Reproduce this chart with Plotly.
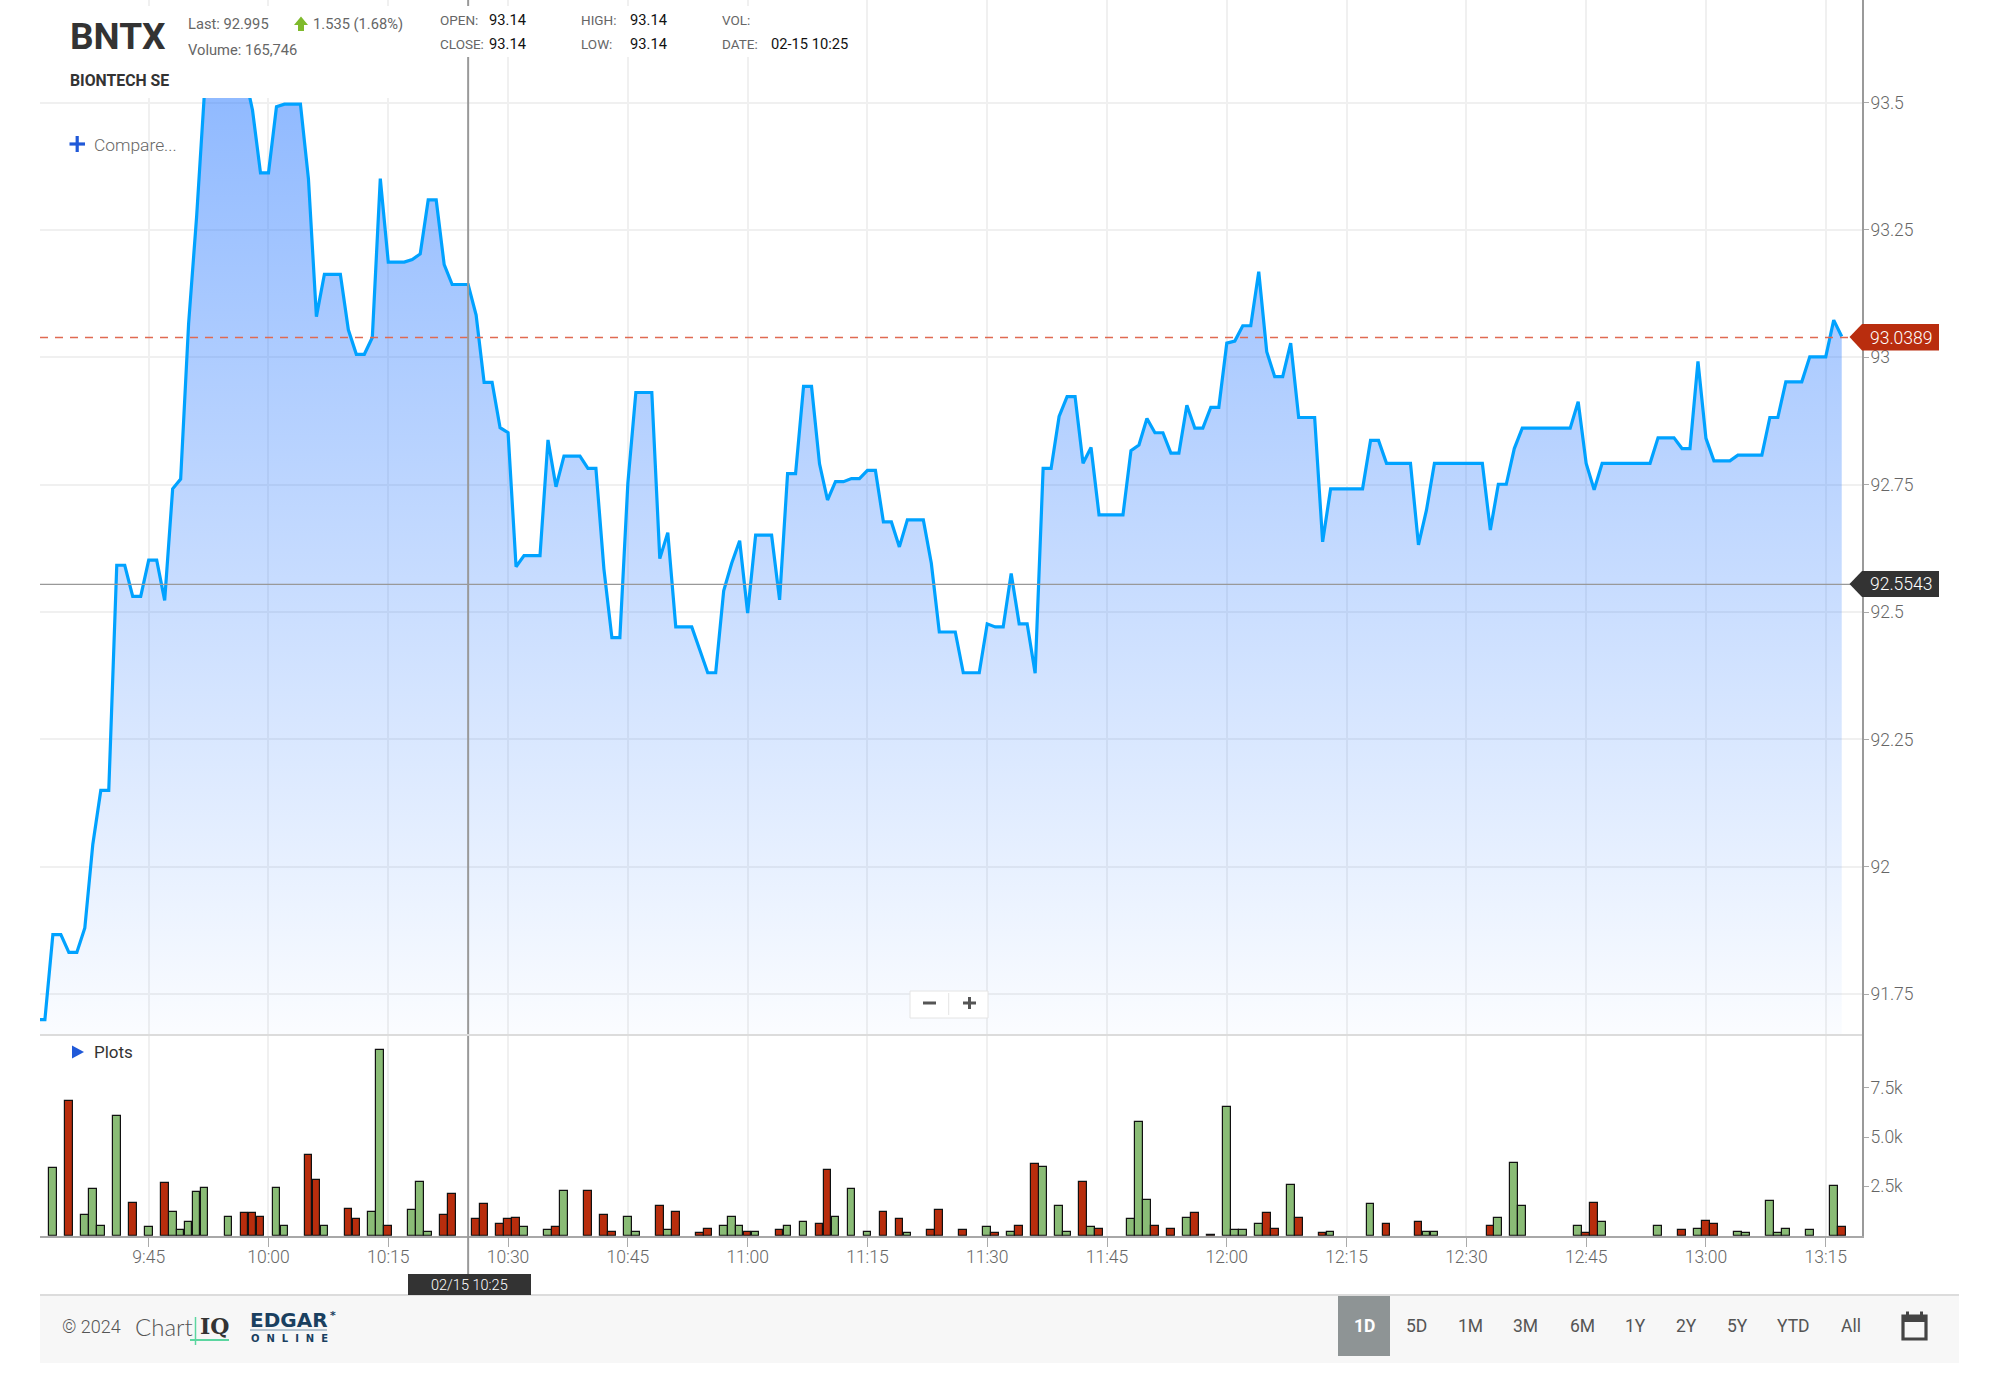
import plotly.graph_objects as go

W, H = 1999, 1384

# minutes after 9:30, one price per minute starting at minute 1
price_start_minute = 1
prices = [
    91.70, 91.70, 91.867, 91.867, 91.832, 91.832, 91.88, 92.044, 92.15, 92.15,
    92.592, 92.592, 92.531, 92.531, 92.602, 92.602, 92.523, 92.742, 92.761, 93.067,
    93.276, 93.525, 93.6, 93.62, 93.62, 93.6, 93.558, 93.485, 93.362, 93.362,
    93.492, 93.497, 93.497, 93.497, 93.351, 93.08, 93.163, 93.163, 93.163, 93.054,
    93.006, 93.006, 93.039, 93.351, 93.187, 93.187, 93.187, 93.192, 93.203, 93.309,
    93.309, 93.182, 93.143, 93.143, 93.143, 93.083, 92.951, 92.951, 92.862, 92.852,
    92.589, 92.611, 92.611, 92.611, 92.838, 92.746, 92.806, 92.806, 92.806, 92.782,
    92.782, 92.585, 92.45, 92.45, 92.753, 92.931, 92.931, 92.931, 92.605, 92.656,
    92.471, 92.471, 92.471, 92.426, 92.381, 92.381, 92.542, 92.596, 92.64, 92.498,
    92.651, 92.651, 92.651, 92.524, 92.772, 92.772, 92.943, 92.943, 92.791, 92.72,
    92.756, 92.756, 92.762, 92.762, 92.778, 92.778, 92.677, 92.677, 92.628, 92.681,
    92.681, 92.681, 92.596, 92.461, 92.461, 92.461, 92.381, 92.381, 92.381, 92.477,
    92.471, 92.471, 92.576, 92.477, 92.477, 92.38, 92.782, 92.782, 92.884, 92.923,
    92.923, 92.792, 92.823, 92.691, 92.691, 92.691, 92.691, 92.817, 92.828, 92.88,
    92.852, 92.852, 92.812, 92.812, 92.906, 92.861, 92.861, 92.902, 92.902, 93.028,
    93.032, 93.062, 93.062, 93.168, 93.011, 92.962, 92.962, 93.028, 92.882, 92.882,
    92.882, 92.638, 92.742, 92.742, 92.742, 92.742, 92.742, 92.837, 92.837, 92.792,
    92.792, 92.792, 92.792, 92.632, 92.7, 92.792, 92.792, 92.792, 92.792, 92.792,
    92.792, 92.792, 92.661, 92.751, 92.751, 92.821, 92.861, 92.861, 92.861, 92.861,
    92.861, 92.861, 92.861, 92.913, 92.792, 92.74, 92.792, 92.792, 92.792, 92.792,
    92.792, 92.792, 92.792, 92.842, 92.842, 92.842, 92.821, 92.821, 92.992, 92.841,
    92.797, 92.797, 92.797, 92.808, 92.808, 92.808, 92.808, 92.882, 92.882, 92.952,
    92.952, 92.952, 93.001, 93.001, 93.001, 93.073, 93.041,
]

up_minutes = [3, 7, 8, 9, 11, 15, 18, 19, 20, 21, 22, 25, 31, 32, 37, 43, 44, 48, 49, 50, 62, 65, 67, 75, 76, 80,
              87, 88, 89, 91, 95, 97, 101, 103, 105, 110, 120, 123, 127, 129, 130, 133, 138, 139, 140, 145,
              150, 151, 152, 154, 158, 163, 168, 175, 176, 184, 186, 187, 194, 197, 204, 209, 214, 215, 218,
              219, 220, 223, 226]
up_volumes = [3412, 1047, 2348, 507, 6081, 439, 1199, 287, 676, 2196, 2416, 963, 2416, 507, 507, 1199, 9426, 1284,
              2736, 203, 439, 287, 2263, 963, 203, 287,
              507, 963, 507, 203, 507, 676, 963, 2348, 203, 135, 439, 203, 3496, 1503, 203, 439, 828, 5776, 1807,
              895, 6536, 287, 287, 591, 2584, 203, 1588, 203, 203, 895, 3699, 1503, 507, 676, 507, 355, 203, 135,
              1740, 135, 355, 287, 2500]
down_minutes = [5, 13, 17, 27, 28, 29, 35, 36, 40, 41, 45, 52, 53, 56, 57, 59, 60, 61, 66, 70, 72, 73, 79, 81, 84,
                85, 90, 94, 99, 100, 107, 109, 113, 114, 117, 121, 124, 126, 132, 134, 141, 143, 146, 148, 155,
                156, 159, 162, 170, 174, 183, 195, 196, 207, 210, 211, 227]
down_volumes = [6841, 1672, 2652, 1132, 1132, 963, 4088, 2804, 1351, 828, 507, 1047, 2128, 828, 1588, 591, 828, 895,
                439, 2263, 1047, 203, 1503, 1199, 135, 355, 203, 287, 591, 3327, 1199, 828, 287, 1284, 287, 135,
                507, 3648, 2736, 355, 507, 355, 1132, 50, 1132, 355, 895, 135, 591, 676, 507, 135, 1672, 287, 743,
                591, 439]

time_tick_minutes = [15, 30, 45, 60, 75, 90, 105, 120, 135, 150, 165, 180, 195, 210, 225]
time_tick_labels = ["9:45", "10:00", "10:15", "10:30", "10:45", "11:00", "11:15", "11:30", "11:45", "12:00",
                    "12:15", "12:30", "12:45", "13:00", "13:15"]
price_ticks = [93.5, 93.25, 93, 92.75, 92.5, 92.25, 92, 91.75]
price_tick_labels = ["93.5", "93.25", "93", "92.75", "92.5", "92.25", "92", "91.75"]
volume_ticks = [2500, 5000, 7500]
volume_tick_labels = ["2.5k", "5.0k", "7.5k"]

last_price = 93.0389
crosshair_price = 92.5543
crosshair_minute = 55

price_minutes = [price_start_minute + i for i in range(len(prices))]

def px(x):
    return x / W

def py(y):
    return 1 - y / H

GRID = "#f0f0f0"
AXIS = "#9a9a9a"
TICKTXT = "#666666"
FF = "Roboto"

fig = go.Figure()

fig.add_trace(go.Scatter(
    x=price_minutes, y=prices, xaxis="x", yaxis="y", mode="lines",
    line=dict(color="#00a2ff", width=3.2), fill="tozeroy",
    fillgradient=dict(type="vertical", start=91.67, stop=93.6,
                      colorscale=[[0, "rgba(41,121,255,0.02)"], [1, "rgba(41,121,255,0.54)"]]),
    hoverinfo="skip", showlegend=False,
))
fig.add_trace(go.Bar(
    x=up_minutes, y=up_volumes, xaxis="x2", yaxis="y2", width=0.96,
    marker=dict(color="#8abc76", line=dict(color="#111111", width=1.2)),
    hoverinfo="skip", showlegend=False,
))
fig.add_trace(go.Bar(
    x=down_minutes, y=down_volumes, xaxis="x2", yaxis="y2", width=0.96,
    marker=dict(color="#b82d0d", line=dict(color="#111111", width=1.2)),
    hoverinfo="skip", showlegend=False,
))

shapes = []

def hline_px(x0, x1, y, color, width, dash=None):
    shapes.append(dict(type="line", xref="paper", yref="paper", x0=px(x0), x1=px(x1), y0=py(y), y1=py(y),
                       line=dict(color=color, width=width, dash=dash) if dash else dict(color=color, width=width),
                       layer="above"))

def vline_px(x, y0, y1, color, width):
    shapes.append(dict(type="line", xref="paper", yref="paper", x0=px(x), x1=px(x), y0=py(y0), y1=py(y1),
                       line=dict(color=color, width=width), layer="above"))

def rect_px(x0, y0, x1, y1, fill, line=None, lw=0):
    shapes.append(dict(type="rect", xref="paper", yref="paper", x0=px(x0), x1=px(x1), y0=py(y0), y1=py(y1),
                       fillcolor=fill, line=dict(color=line or fill, width=lw), layer="above"))

def path_px(points, fill):
    d = "M " + " L ".join(f"{px(a):.6f},{py(b):.6f}" for a, b in points) + " Z"
    shapes.append(dict(type="path", xref="paper", yref="paper", path=d, fillcolor=fill,
                       line=dict(width=0), layer="above"))

# reference lines tied to the data scale
shapes.append(dict(type="line", xref="paper", yref="y", x0=px(40), x1=px(1862), y0=last_price, y1=last_price,
                   line=dict(color="#e06a52", width=1.4, dash="8px,7px"), layer="above"))
shapes.append(dict(type="line", xref="paper", yref="y", x0=px(40), x1=px(1862), y0=crosshair_price, y1=crosshair_price,
                   line=dict(color="#999999", width=1.2), layer="above"))
shapes.append(dict(type="line", xref="x", yref="paper", x0=crosshair_minute, x1=crosshair_minute, y0=py(0), y1=py(1274),
                   line=dict(color="#999999", width=2), layer="above"))

# panel separator
hline_px(40, 1862, 1035, "#dcdcdc", 2)

# header boxes
rect_px(62, 6, 420, 98, "#ffffff")
rect_px(437, 6, 860, 57, "#ffffff")

# price badges
path_px([(1849.5, 337), (1862, 324), (1939, 324), (1939, 350.5), (1862, 350.5)], "#b92d0e")
path_px([(1849.5, 584), (1862, 571), (1939, 571), (1939, 597), (1862, 597)], "#333333")

# footer
rect_px(40, 1295, 1959, 1363, "#f7f7f7")
hline_px(40, 1959, 1295, "#dcdcdc", 2)
rect_px(408, 1274, 531, 1295, "#333333")
rect_px(1338, 1296, 1390, 1356, "#8e9495")

# zoom control
shapes.append(dict(type="rect", xref="paper", yref="paper", x0=px(910), x1=px(988), y0=py(991), y1=py(1018),
                   fillcolor="#ffffff", line=dict(color="#e4e4e4", width=1), layer="above"))
vline_px(948.7, 993, 1015, "#e4e4e4", 1)
hline_px(923, 936, 1003, "#555555", 3)
hline_px(963, 976, 1003, "#555555", 3)
vline_px(969.5, 997, 1009, "#555555", 3)

# compare plus, plots triangle, last-change arrow
hline_px(69.5, 85, 144, "#2059d8", 3.2)
vline_px(77.2, 136, 152, "#2059d8", 3.2)
path_px([(72, 1045.5), (84, 1052), (72, 1058.5)], "#2059d8")
path_px([(301, 16.5), (308, 25), (304, 25), (304, 31), (298, 31), (298, 25), (294, 25)], "#7fba2c")

# logo rules
vline_px(195.5, 1317, 1345, "#5cd6a0", 1.5)
hline_px(190, 229, 1340, "#5cd6a0", 2)
hline_px(250, 327, 1330, "#9db0c0", 1.5)

# calendar icon
shapes.append(dict(type="rect", xref="paper", yref="paper", x0=px(1903), x1=px(1926), y0=py(1316), y1=py(1339),
                   fillcolor="rgba(0,0,0,0)", line=dict(color="#444444", width=3.2), layer="above"))
rect_px(1902, 1315, 1927, 1322, "#444444")
rect_px(1906, 1311.5, 1909, 1316, "#444444")
rect_px(1920, 1311.5, 1923, 1316, "#444444")

annotations = []

def label(x, y, text, size, color, weight=400, anchor="left", family=FF):
    annotations.append(dict(xref="paper", yref="paper", x=px(x), y=py(y), text=text, showarrow=False,
                            xanchor=anchor, yanchor="middle", borderpad=0,
                            font=dict(family=family, size=size, color=color, weight=weight)))

label(69, 36, "BNTX", 37, "#333333", 700)
label(69, 81, "BIONTECH SE", 15.8, "#333333", 700)
label(186.5, 23.5, "Last: 92.995", 14.7, "#666666", 400)
label(186.5, 49.5, "Volume: 165,746", 14.7, "#666666", 400)
label(311.5, 23.5, "1.535 (1.68%)", 14.7, "#666666", 400)
label(439, 20, "OPEN:", 13.5, "#666666")
label(439, 44.3, "CLOSE:", 13.5, "#666666")
label(487.5, 20, "93.14", 14.7, "#111111")
label(487.5, 44.3, "93.14", 14.7, "#111111")
label(579.5, 20, "HIGH:", 13.5, "#666666")
label(579.5, 44.3, "LOW:", 13.5, "#666666")
label(628.5, 20, "93.14", 14.7, "#111111")
label(628.5, 44.3, "93.14", 14.7, "#111111")
label(721, 20, "VOL:", 13.5, "#666666")
label(721, 44.3, "DATE:", 13.5, "#666666")
label(769.5, 44.3, "02-15 10:25", 14.7, "#111111")
label(92.5, 145.5, "Compare...", 17.4, "#666666", 300)
label(92.5, 1052, "Plots", 17, "#333333")
label(1869, 337.5, f"{last_price:.4f}", 17.5, "#ffffff", 300)
label(1869, 584, f"{crosshair_price:.4f}", 17.5, "#ffffff", 300)
label(469.5, 1285, "02/15 10:25", 14.5, "#ffffff", 300, "center")
label(61, 1326, "© 2024", 18, "#555555", 300)
label(134, 1326, "Chart", 24, "#555555", 300, family="Lato")
label(199, 1326, "IQ", 22, "#333333", 700, family="DejaVu Serif")
label(249, 1320, "EDGAR", 20, "#1a4060", 700, family="DejaVu Sans")
label(329, 1315, "*", 11, "#1a4060", 700, family="DejaVu Sans")
label(250, 1338, "O\u00a0\u00a0N\u00a0\u00a0L\u00a0\u00a0I\u00a0\u00a0N\u00a0\u00a0E", 10, "#1a4060", 700, family="DejaVu Sans")
label(1364.5, 1326, "1D", 17.5, "#ffffff", 700, "center")
for cx, t in zip([1416.4, 1470.4, 1525.8, 1582, 1635, 1686, 1737.4, 1793.6, 1851],
                 ["5D", "1M", "3M", "6M", "1Y", "2Y", "5Y", "YTD", "All"]):
    label(cx, 1326, t, 17.5, "#555555", 400, "center")

main_bottom = py(1035)
vol_bottom = py(1235.7)

fig.update_layout(
    width=W, height=H, autosize=False,
    margin=dict(l=0, r=0, t=0, b=0, pad=0),
    paper_bgcolor="#ffffff", plot_bgcolor="#ffffff",
    barmode="overlay", bargap=0, showlegend=False,
    shapes=shapes, annotations=annotations,
    xaxis=dict(domain=[px(40), px(1862)], range=[1.388, 229.54], anchor="y",
               tickmode="array", tickvals=time_tick_minutes, ticktext=time_tick_labels,
               showticklabels=False, ticks="", showgrid=True, gridcolor=GRID, gridwidth=1.5,
               zeroline=False, showline=False),
    xaxis2=dict(domain=[px(40), px(1862)], matches="x", anchor="y2",
                tickmode="array", tickvals=time_tick_minutes, ticktext=time_tick_labels,
                showgrid=True, gridcolor=GRID, gridwidth=1.5, zeroline=False,
                showline=True, linecolor="#a8a8a8", linewidth=2,
                ticks="outside", ticklen=9, tickcolor="#aaaaaa", tickwidth=1, ticklabelstandoff=-5,
                tickfont=dict(family=FF, size=17.5, color=TICKTXT, weight=300)),
    yaxis=dict(domain=[main_bottom, 1], range=[91.67, 93.7014], anchor="x", side="right",
               tickmode="array", tickvals=price_ticks, ticktext=price_tick_labels,
               showgrid=True, gridcolor=GRID, gridwidth=2, zeroline=False,
               showline=True, linecolor=AXIS, linewidth=2,
               ticks="outside", ticklen=5, tickcolor="#aaaaaa", tickwidth=1, ticklabelstandoff=-2,
               tickfont=dict(family=FF, size=17.5, color=TICKTXT, weight=300)),
    yaxis2=dict(domain=[vol_bottom, main_bottom], range=[0, 10172], anchor="x2", side="right",
                tickmode="array", tickvals=volume_ticks, ticktext=volume_tick_labels,
                showgrid=False, zeroline=False,
                showline=True, linecolor=AXIS, linewidth=2,
                ticks="outside", ticklen=5, tickcolor="#aaaaaa", tickwidth=1, ticklabelstandoff=-2,
                tickfont=dict(family=FF, size=17.5, color=TICKTXT, weight=300)),
)

fig.write_html("out.html", config=dict(displayModeBar=False, responsive=False),
               post_script="document.body.style.margin='0';document.documentElement.style.overflow='hidden';")
